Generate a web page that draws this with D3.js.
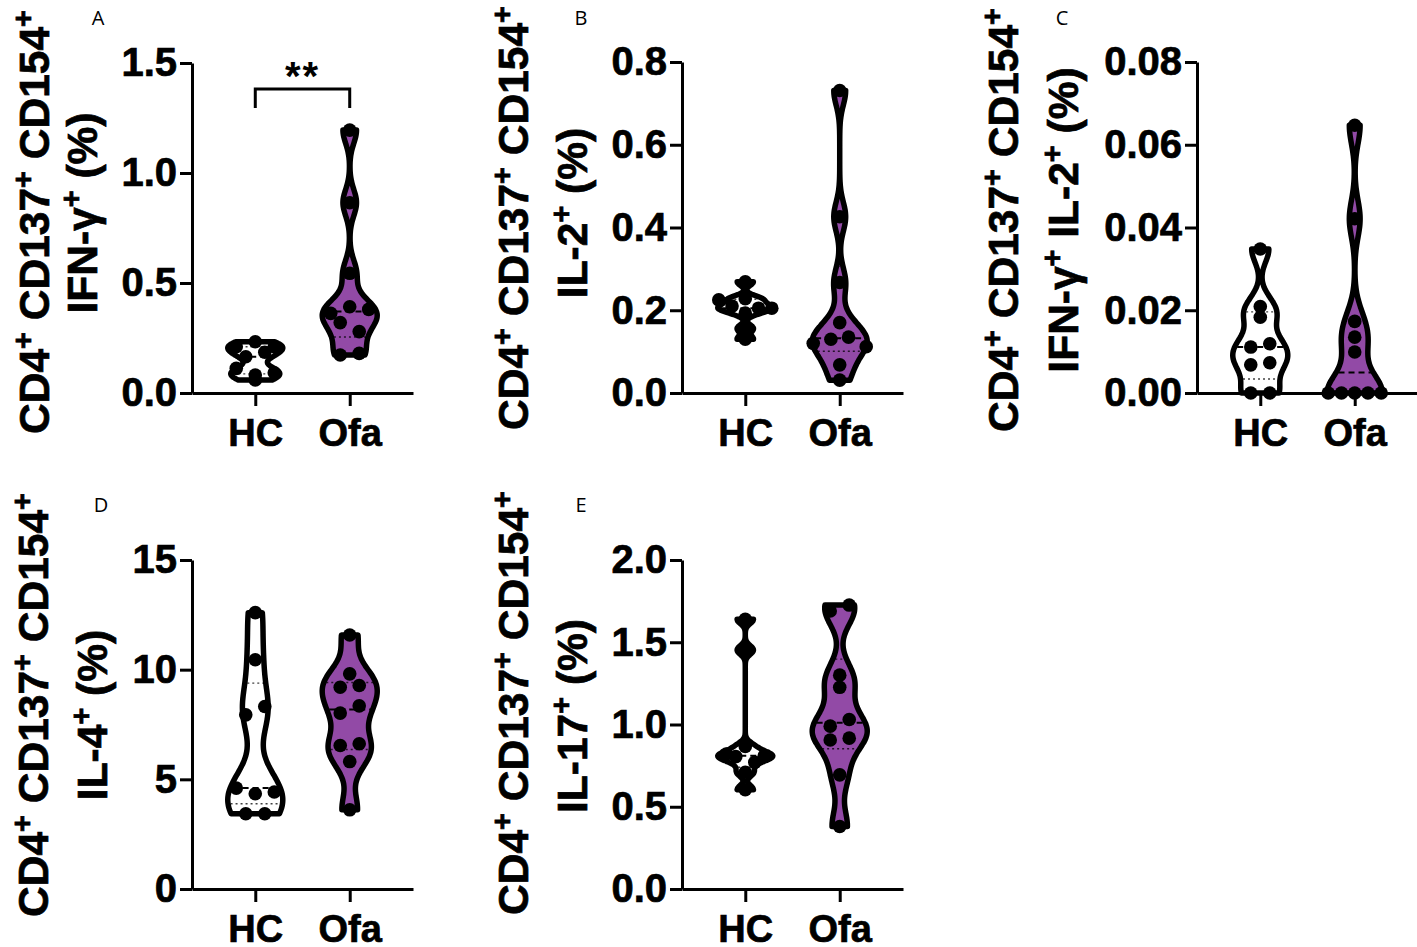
<!DOCTYPE html>
<html>
<head>
<meta charset="utf-8">
<script src="https://cdn.jsdelivr.net/npm/d3@7"></script>
<style>
  html, body { margin: 0; padding: 0; background: #fff; }
  svg { display: block; font-family: "Liberation Sans", Arial, sans-serif; }
</style>
</head>
<body>
<svg id="chart" width="1417" height="947"></svg>
<script>
// Groups on every x axis
const groups = ['HC', 'Ofa'];

// A: IFN-γ+ (%)
const hcIfng = [0.21, 0.233, 0.21, 0.165, 0.185, 0.112, 0.082, 0.092, 0.059];
const ofaIfng = [1.195, 0.865, 0.544, 0.362, 0.392, 0.38, 0.32, 0.279, 0.173, 0.18];
const ticksA = [0, 0.5, 1.0, 1.5];

// B: IL-2+ (%)
const hcIl2 = [0.269, 0.225, 0.21, 0.228, 0.205, 0.193, 0.205, 0.156, 0.13];
const ofaIl2 = [0.731, 0.426, 0.267, 0.17, 0.12, 0.13, 0.135, 0.112, 0.068, 0.031];
const ticksB = [0, 0.2, 0.4, 0.6, 0.8];

// C: IFN-γ+ IL-2+ (%)
const hcIfngIl2 = [0.0348, 0.0209, 0.0183, 0.0111, 0.0119, 0.0068, 0.0073, 0, 0];
const ofaIfngIl2 = [0.0647, 0.0421, 0.0173, 0.0135, 0.0099, 0, 0, 0, 0, 0];
const ticksC = [0, 0.02, 0.04, 0.06, 0.08];

// D: IL-4+ (%)
const hcIl4 = [12.6, 10.45, 7.94, 8.32, 4.6, 4.34, 4.42, 3.43, 3.43];
const ofaIl4 = [11.58, 9.81, 9.2, 9.28, 8.02, 8.35, 6.54, 6.62, 5.81, 3.61];
const ticksD = [0, 5, 10, 15];

// E: IL-17+ (%)
const hcIl17 = [1.64, 1.453, 0.82, 0.866, 0.81, 0.805, 0.77, 0.71, 0.603];
const ofaIl17 = [1.69, 1.726, 1.30, 1.226, 0.99, 1.03, 0.906, 0.917, 0.694, 0.38];
const ticksE = [0, 0.5, 1.0, 1.5, 2.0];

// Axis title pieces: [text, superscript]
const titleCommon = [['CD4', '+'], [' CD137', '+'], [' CD154', '+']];
const titleA = [['IFN-γ', '+'], [' (%)', '']];
const titleB = [['IL-2', '+'], [' (%)', '']];
const titleC = [['IFN-γ', '+'], [' IL-2', '+'], [' (%)', '']];
const titleD = [['IL-4', '+'], [' (%)', '']];
const titleE = [['IL-17', '+'], [' (%)', '']];

const PURPLE = '#924aa6';

// Configuration
const config = {
  axisWidth: 221,
  violinHalfWidth: 27.5,
  violinStroke: 5.5,
  dotRadius: 6.8,
  rowGap: 10,
  dotSpacing: 19,
  rowSpread: 53,
  smoothing: 0.65,
  tickFont: 40,
  groupFont: 38,
  titleFont: 42.5,
  heavy: 0.7
};

const panels = [
  { letter: 'A', hc: hcIfng, ofa: ofaIfng, ticks: ticksA, fmt: '.1f', line2: titleA,
    axisX: 192, yTop: 63, yBot: 393, t1: [49, 222], t2: [97, 213], label: [98, 25], sig: '**' },
  { letter: 'B', hc: hcIl2, ofa: ofaIl2, ticks: ticksB, fmt: '.1f', line2: titleB,
    axisX: 682, yTop: 62, yBot: 393, t1: [528, 218], t2: [587, 213], label: [581, 25] },
  { letter: 'C', hc: hcIfngIl2, ofa: ofaIfngIl2, ticks: ticksC, fmt: '.2f', line2: titleC,
    axisX: 1197, yTop: 62, yBot: 393, t1: [1018, 220], t2: [1078, 220], label: [1062, 25] },
  { letter: 'D', hc: hcIl4, ofa: ofaIl4, ticks: ticksD, fmt: 'd', line2: titleD,
    axisX: 192, yTop: 560, yBot: 889, t1: [48, 705], t2: [107, 715], label: [101, 512] },
  { letter: 'E', hc: hcIl17, ofa: ofaIl17, ticks: ticksE, fmt: '.1f', line2: titleE,
    axisX: 682, yTop: 560, yBot: 889, t1: [528, 703], t2: [587, 716], label: [581, 512] }
];

const svg = d3.select('#chart');

// GraphPad-style quantile: position (n+1)p
function quantile(sorted, p) {
  const n = sorted.length;
  let pos = (n + 1) * p;
  pos = Math.max(1, Math.min(n, pos));
  const lo = Math.floor(pos), hi = Math.ceil(pos);
  return sorted[lo - 1] + (pos - lo) * (sorted[hi - 1] - sorted[lo - 1]);
}

function bandwidth(values) {
  const s = values.slice().sort(d3.ascending);
  const sd = d3.deviation(s);
  const iqr = d3.quantile(s, 0.75) - d3.quantile(s, 0.25);
  const spread = iqr > 0 ? Math.min(sd, iqr / 1.34) : sd;
  return config.smoothing * 0.9 * spread * Math.pow(s.length, -0.2);
}

function density(values, h) {
  return y => d3.sum(values, v => Math.exp(-0.5 * ((y - v) / h) ** 2));
}

// Spread dots with close y values into centred rows
function layoutDots(values, y) {
  const order = d3.range(values.length).sort((a, b) => values[b] - values[a] || a - b);
  const offsets = new Array(values.length).fill(0);
  let i = 0;
  while (i < order.length) {
    const startY = y(values[order[i]]);
    const row = [order[i]];
    let j = i + 1;
    while (j < order.length && Math.abs(y(values[order[j]]) - startY) < config.rowGap) {
      row.push(order[j]);
      j++;
    }
    row.sort((a, b) => a - b);
    const n = row.length;
    const step = n > 1 ? Math.min(config.dotSpacing, config.rowSpread / (n - 1)) : 0;
    row.forEach((idx, k) => { offsets[idx] = (k - (n - 1) / 2) * step; });
    i = j;
  }
  return offsets;
}

function drawTitle(g, parts, x, cy) {
  const t = g.append('text')
    .attr('transform', `translate(${x},${cy}) rotate(-90)`)
    .attr('text-anchor', 'middle')
    .attr('font-size', config.titleFont)
    .attr('font-weight', 'bold')
    .attr('stroke', '#000')
    .attr('stroke-width', config.heavy);
  const raise = 16;
  let shift = 0;
  parts.forEach(([txt, sup]) => {
    t.append('tspan').attr('dy', -shift).text(txt);
    shift = 0;
    if (sup) {
      t.append('tspan').attr('dy', -raise).attr('font-size', config.titleFont * 0.68).text(sup);
      shift = -raise;
    }
  });
}

function drawViolin(g, values, cx, y, fill) {
  const sorted = values.slice().sort(d3.ascending);
  const min = sorted[0], max = sorted[sorted.length - 1];
  const dens = density(values, bandwidth(values));
  const grid = d3.range(0, 121).map(i => min + (max - min) * i / 120);
  const pts = grid.map(v => [v, dens(v)]);
  const maxD = d3.max(pts, d => d[1]);
  const w = d3.scaleLinear().domain([0, maxD]).range([0, config.violinHalfWidth]);

  const area = d3.area()
    .y(d => y(d[0]))
    .x0(d => cx - w(d[1]))
    .x1(d => cx + w(d[1]))
    .curve(d3.curveCatmullRom);

  g.append('path')
    .datum(pts)
    .attr('d', area)
    .attr('fill', fill)
    .attr('stroke', '#000')
    .attr('stroke-width', config.violinStroke)
    .attr('stroke-linejoin', 'round');

  // Median (dashed) and quartiles (dotted)
  const lines = [
    { q: quantile(sorted, 0.5), dash: '6,4', sw: 2 },
    { q: quantile(sorted, 0.25), dash: '2,3', sw: 1.4 },
    { q: quantile(sorted, 0.75), dash: '2,3', sw: 1.4 }
  ];
  lines.forEach(l => {
    const hw = Math.max(0, w(dens(l.q)) - 2.5);
    g.append('line')
      .attr('x1', cx - hw).attr('x2', cx + hw)
      .attr('y1', y(l.q)).attr('y2', y(l.q))
      .attr('stroke', '#000')
      .attr('stroke-opacity', l.sw < 2 ? 0.75 : 1)
      .attr('stroke-width', l.sw)
      .attr('stroke-dasharray', l.dash);
  });

  // Data points
  const offsets = layoutDots(values, y);
  g.selectAll(null)
    .data(values)
    .join('circle')
    .attr('cx', (d, i) => cx + offsets[i])
    .attr('cy', d => y(d))
    .attr('r', config.dotRadius)
    .attr('fill', '#000');
}

panels.forEach(p => {
  const g = svg.append('g');
  const y = d3.scaleLinear()
    .domain([p.ticks[0], p.ticks[p.ticks.length - 1]])
    .range([p.yBot, p.yTop]);
  const x = d3.scalePoint()
    .domain(groups)
    .range([p.axisX, p.axisX + config.axisWidth])
    .padding(0.67);

  // Violins
  drawViolin(g, p.hc, x('HC'), y, '#fff');
  drawViolin(g, p.ofa, x('Ofa'), y, PURPLE);

  // Y axis
  const yAxis = g.append('g')
    .attr('transform', `translate(${p.axisX},0)`)
    .call(d3.axisLeft(y).tickValues(p.ticks).tickFormat(d3.format(p.fmt))
      .tickSize(12).tickSizeOuter(0).tickPadding(3));

  // X axis
  const xAxis = g.append('g')
    .attr('transform', `translate(0,${p.yBot})`)
    .call(d3.axisBottom(x).tickSize(13).tickSizeOuter(0).tickPadding(13));

  [yAxis, xAxis].forEach(ax => {
    ax.select('.domain').attr('stroke', '#000').attr('stroke-width', 3);
    ax.selectAll('.tick line').attr('stroke', '#000').attr('stroke-width', 3);
    ax.selectAll('.tick text')
      .attr('fill', '#000')
      .attr('stroke', '#000')
      .attr('stroke-width', config.heavy)
      .attr('font-family', '"Liberation Sans", Arial, sans-serif')
      .attr('font-weight', 'bold');
  });
  yAxis.selectAll('.tick text').attr('font-size', config.tickFont);
  xAxis.selectAll('.tick text').attr('font-size', config.groupFont);

  // Axis title, two lines
  drawTitle(g, titleCommon, p.t1[0], p.t1[1]);
  drawTitle(g, p.line2, p.t2[0], p.t2[1]);

  // Panel letter
  g.append('text')
    .attr('x', p.label[0])
    .attr('y', p.label[1])
    .attr('text-anchor', 'middle')
    .attr('font-family', '"Open Sans", "Noto Sans", sans-serif')
    .attr('font-size', 20)
    .attr('fill', '#000')
    .text(p.letter);

  // Significance bracket
  if (p.sig) {
    const x1 = x('HC'), x2 = x('Ofa');
    g.append('path')
      .attr('d', `M${x1},108V89H${x2}V108`)
      .attr('fill', 'none')
      .attr('stroke', '#000')
      .attr('stroke-width', 3);
    g.append('text')
      .attr('x', (x1 + x2) / 2)
      .attr('y', 90)
      .attr('text-anchor', 'middle')
      .attr('font-size', 40)
      .attr('font-weight', 'bold')
      .attr('letter-spacing', 2)
      .text(p.sig);
  }
});
</script>
</body>
</html>
